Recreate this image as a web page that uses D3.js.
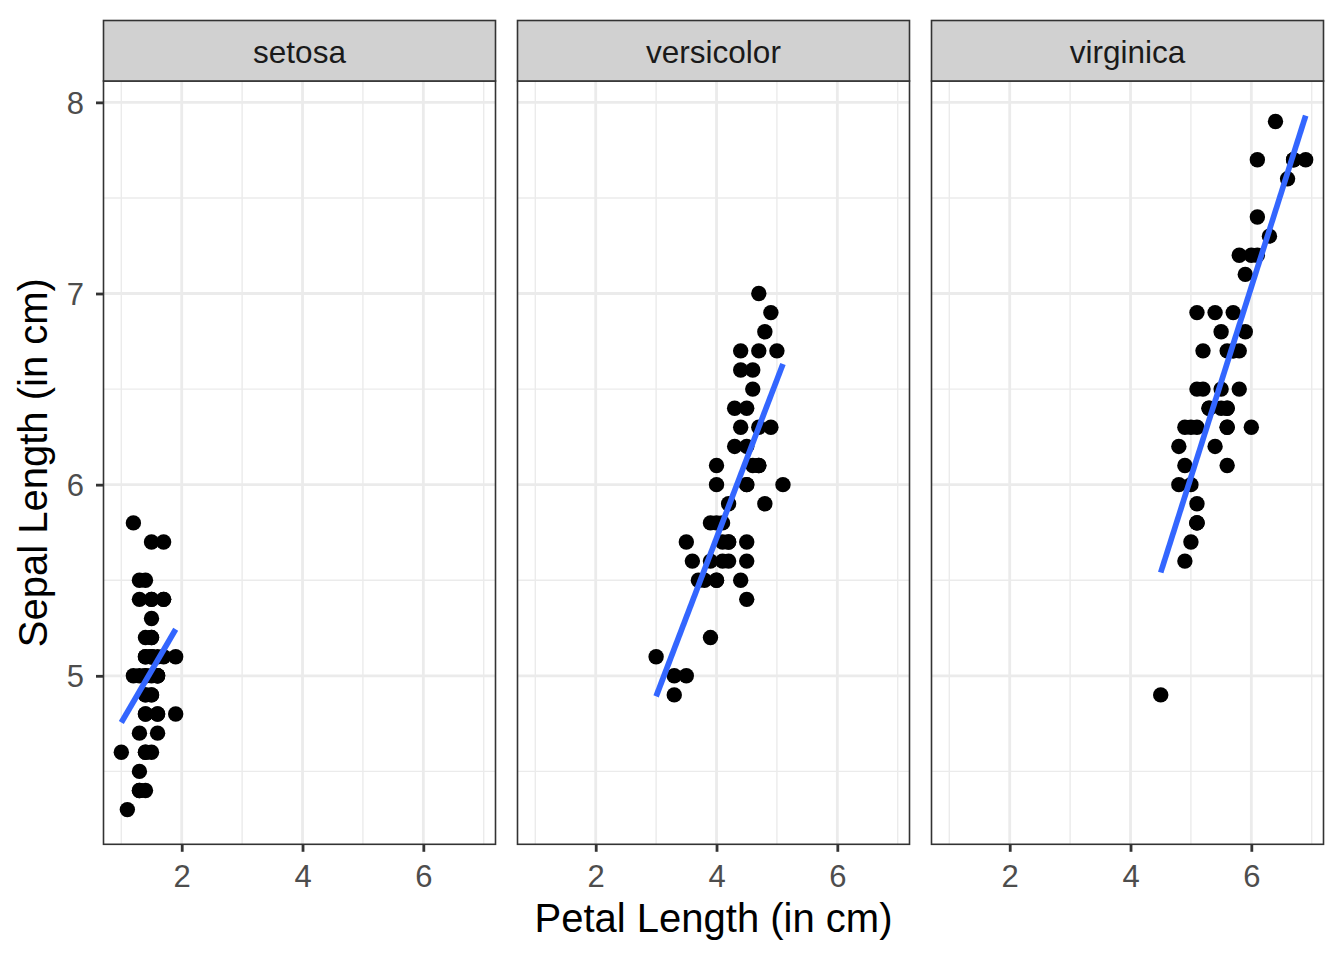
<html>
<head>
    <meta charset="UTF-8">
    <title>Iris: sepal vs petal length</title>
    <script src="https://cdn.jsdelivr.net/npm/d3@7"></script>
    <style>
        body { margin: 0; background: #fff; }
        text { font-family: "Liberation Sans", Arial, Helvetica, sans-serif; }
    </style>
</head>
<body>
    <svg id="chart" width="1344" height="960"></svg>
    <script>
        // iris data, Petal.Length and Sepal.Length per species
        var species = ["setosa", "versicolor", "virginica"];
        var setosaPetal = [1.4, 1.4, 1.3, 1.5, 1.4, 1.7, 1.4, 1.5, 1.4, 1.5, 1.5, 1.6, 1.4, 1.1, 1.2, 1.5, 1.3, 1.4, 1.7, 1.5,
            1.7, 1.5, 1.0, 1.7, 1.9, 1.6, 1.6, 1.5, 1.4, 1.6, 1.6, 1.5, 1.5, 1.4, 1.5, 1.2, 1.3, 1.4, 1.3, 1.5,
            1.3, 1.3, 1.3, 1.6, 1.9, 1.4, 1.6, 1.4, 1.5, 1.4];
        var setosaSepal = [5.1, 4.9, 4.7, 4.6, 5.0, 5.4, 4.6, 5.0, 4.4, 4.9, 5.4, 4.8, 4.8, 4.3, 5.8, 5.7, 5.4, 5.1, 5.7, 5.1,
            5.4, 5.1, 4.6, 5.1, 4.8, 5.0, 5.0, 5.2, 5.2, 4.7, 4.8, 5.4, 5.2, 5.5, 4.9, 5.0, 5.5, 4.9, 4.4, 5.1,
            5.0, 4.5, 4.4, 5.0, 5.1, 4.8, 5.1, 4.6, 5.3, 5.0];
        var versicolorPetal = [4.7, 4.5, 4.9, 4.0, 4.6, 4.5, 4.7, 3.3, 4.6, 3.9, 3.5, 4.2, 4.0, 4.7, 3.6, 4.4, 4.5, 4.1, 4.5, 3.9,
            4.8, 4.0, 4.9, 4.7, 4.3, 4.4, 4.8, 5.0, 4.5, 3.5, 3.8, 3.7, 3.9, 5.1, 4.5, 4.5, 4.7, 4.4, 4.1, 4.0,
            4.4, 4.6, 4.0, 3.3, 4.2, 4.2, 4.2, 4.3, 3.0, 4.1];
        var versicolorSepal = [7.0, 6.4, 6.9, 5.5, 6.5, 5.7, 6.3, 4.9, 6.6, 5.2, 5.0, 5.9, 6.0, 6.1, 5.6, 6.7, 5.6, 5.8, 6.2, 5.6,
            5.9, 6.1, 6.3, 6.1, 6.4, 6.6, 6.8, 6.7, 6.0, 5.7, 5.5, 5.5, 5.8, 6.0, 5.4, 6.0, 6.7, 6.3, 5.6, 5.5,
            5.5, 6.1, 5.8, 5.0, 5.6, 5.7, 5.7, 6.2, 5.1, 5.7];
        var virginicaPetal = [6.0, 5.1, 5.9, 5.6, 5.8, 6.6, 4.5, 6.3, 5.8, 6.1, 5.1, 5.3, 5.5, 5.0, 5.1, 5.3, 5.5, 6.7, 6.9, 5.0,
            5.7, 4.9, 6.7, 4.9, 5.7, 6.0, 4.8, 4.9, 5.6, 5.8, 6.1, 6.4, 5.6, 5.1, 5.6, 6.1, 5.6, 5.5, 4.8, 5.4,
            5.6, 5.1, 5.1, 5.9, 5.7, 5.2, 5.0, 5.2, 5.4, 5.1];
        var virginicaSepal = [6.3, 5.8, 7.1, 6.3, 6.5, 7.6, 4.9, 7.3, 6.7, 7.2, 6.5, 6.4, 6.8, 5.7, 5.8, 6.4, 6.5, 7.7, 7.7, 6.0,
            6.9, 5.6, 7.7, 6.3, 6.7, 7.2, 6.2, 6.1, 6.4, 7.2, 7.4, 7.9, 6.4, 6.3, 6.1, 7.7, 6.3, 6.4, 6.0, 6.9,
            6.7, 6.9, 5.8, 6.8, 6.7, 6.7, 6.3, 6.5, 6.2, 5.9];
        var xTicks = [2, 4, 6];
        var yTicks = [5, 6, 7, 8];
        var xMinor = [1, 3, 5, 7];
        var yMinor = [4.5, 5.5, 6.5, 7.5];

        var petal = [setosaPetal, versicolorPetal, virginicaPetal];
        var sepal = [setosaSepal, versicolorSepal, virginicaSepal];

        // least squares line, like geom_smooth(method = "lm", se = FALSE)
        function lmFit(xs, ys) {
            var mx = d3.mean(xs), my = d3.mean(ys);
            var sxy = d3.sum(xs, function (x, i) { return (x - mx) * (ys[i] - my); });
            var sxx = d3.sum(xs, function (x) { return (x - mx) * (x - mx); });
            var b = sxy / sxx;
            var a = my - b * mx;
            var ext = d3.extent(xs);
            return [{ x: ext[0], y: a + b * ext[0] }, { x: ext[1], y: a + b * ext[1] }];
        }
        var fits = species.map(function (s, i) { return lmFit(petal[i], sepal[i]); });

        // shared scales with 5% expansion, y also covers the fitted lines
        var xExt = d3.extent(d3.merge(petal));
        var yAll = d3.merge(sepal).concat(d3.merge(fits).map(function (d) { return d.y; }));
        var yExt = d3.extent(yAll);
        var xPad = (xExt[1] - xExt[0]) * 0.05;
        var yPad = (yExt[1] - yExt[0]) * 0.05;

        var panelLeft = 103.5, panelW = 392, panelGap = 22;
        var stripTop = 20.5, panelTop = 81, panelBottom = 844.3;

        var x = d3.scaleLinear().domain([xExt[0] - xPad, xExt[1] + xPad]).range([0, panelW]);
        var y = d3.scaleLinear().domain([yExt[0] - yPad, yExt[1] + yPad]).range([panelBottom, panelTop]);

        var svg = d3.select("#chart");
        svg.append("rect").attr("width", 1344).attr("height", 960).attr("fill", "#fff");

        species.forEach(function (name, i) {
            var g = svg.append("g")
                .attr("transform", "translate(" + (panelLeft + i * (panelW + panelGap)) + ",0)");

            // grid
            g.selectAll(".xminor").data(xMinor).enter().append("line")
                .attr("x1", function (d) { return x(d); }).attr("x2", function (d) { return x(d); })
                .attr("y1", panelTop).attr("y2", panelBottom)
                .attr("stroke", "#EBEBEB").attr("stroke-width", 1.4);
            g.selectAll(".yminor").data(yMinor).enter().append("line")
                .attr("x1", 0).attr("x2", panelW)
                .attr("y1", function (d) { return y(d); }).attr("y2", function (d) { return y(d); })
                .attr("stroke", "#EBEBEB").attr("stroke-width", 1.4);
            g.selectAll(".xmajor").data(xTicks).enter().append("line")
                .attr("x1", function (d) { return x(d); }).attr("x2", function (d) { return x(d); })
                .attr("y1", panelTop).attr("y2", panelBottom)
                .attr("stroke", "#EBEBEB").attr("stroke-width", 2.8);
            g.selectAll(".ymajor").data(yTicks).enter().append("line")
                .attr("x1", 0).attr("x2", panelW)
                .attr("y1", function (d) { return y(d); }).attr("y2", function (d) { return y(d); })
                .attr("stroke", "#EBEBEB").attr("stroke-width", 2.8);

            // points
            g.selectAll("circle").data(petal[i]).enter().append("circle")
                .attr("cx", function (d) { return x(d); })
                .attr("cy", function (d, j) { return y(sepal[i][j]); })
                .attr("r", 7.7)
                .attr("fill", "#000");

            // fitted line
            g.append("line")
                .attr("x1", x(fits[i][0].x)).attr("y1", y(fits[i][0].y))
                .attr("x2", x(fits[i][1].x)).attr("y2", y(fits[i][1].y))
                .attr("stroke", "#3366FF").attr("stroke-width", 5.7);

            // border
            g.append("rect")
                .attr("x", 0).attr("y", panelTop)
                .attr("width", panelW).attr("height", panelBottom - panelTop)
                .attr("fill", "none").attr("stroke", "#333333").attr("stroke-width", 1.6);

            // strip
            g.append("rect")
                .attr("x", 0).attr("y", stripTop)
                .attr("width", panelW).attr("height", panelTop - stripTop)
                .attr("fill", "#D1D1D1").attr("stroke", "#333333").attr("stroke-width", 1.6);
            g.append("text")
                .attr("x", panelW / 2).attr("y", 63)
                .attr("text-anchor", "middle")
                .attr("font-size", "31.5px")
                .attr("fill", "#1A1A1A")
                .text(name);

            // x axis
            var xa = g.append("g")
                .attr("transform", "translate(0," + panelBottom + ")")
                .call(d3.axisBottom(x).tickValues(xTicks).tickSize(7.5).tickPadding(5).tickFormat(d3.format("d")));
            xa.select(".domain").remove();
            xa.selectAll("line").attr("stroke", "#333333").attr("stroke-width", 2.8);
            xa.selectAll("text").attr("fill", "#4D4D4D").attr("font-size", "31px")
                .attr("font-family", "Liberation Sans, Arial, sans-serif")
                .attr("dy", null).attr("y", 42.5);

            // y axis on first panel only
            if (i === 0) {
                var ya = g.append("g")
                    .call(d3.axisLeft(y).tickValues(yTicks).tickSize(7.5).tickPadding(8).tickFormat(d3.format("d")));
                ya.select(".domain").remove();
                ya.selectAll("line").attr("stroke", "#333333").attr("stroke-width", 2.8);
                ya.selectAll("text").attr("fill", "#4D4D4D").attr("font-size", "31px")
                    .attr("font-family", "Liberation Sans, Arial, sans-serif")
                    .attr("dy", "0.36em").attr("x", -19.5);
            }
        });

        // axis titles
        var plotMid = panelLeft + (3 * panelW + 2 * panelGap) / 2;
        svg.append("text")
            .attr("x", plotMid).attr("y", 932)
            .attr("text-anchor", "middle")
            .attr("font-size", "40px")
            .attr("fill", "#000")
            .text("Petal Length (in cm)");
        svg.append("text")
            .attr("transform", "translate(47," + ((panelTop + panelBottom) / 2) + ") rotate(-90)")
            .attr("text-anchor", "middle")
            .attr("font-size", "40px")
            .attr("fill", "#000")
            .text("Sepal Length (in cm)");
    </script>
</body>
</html>
